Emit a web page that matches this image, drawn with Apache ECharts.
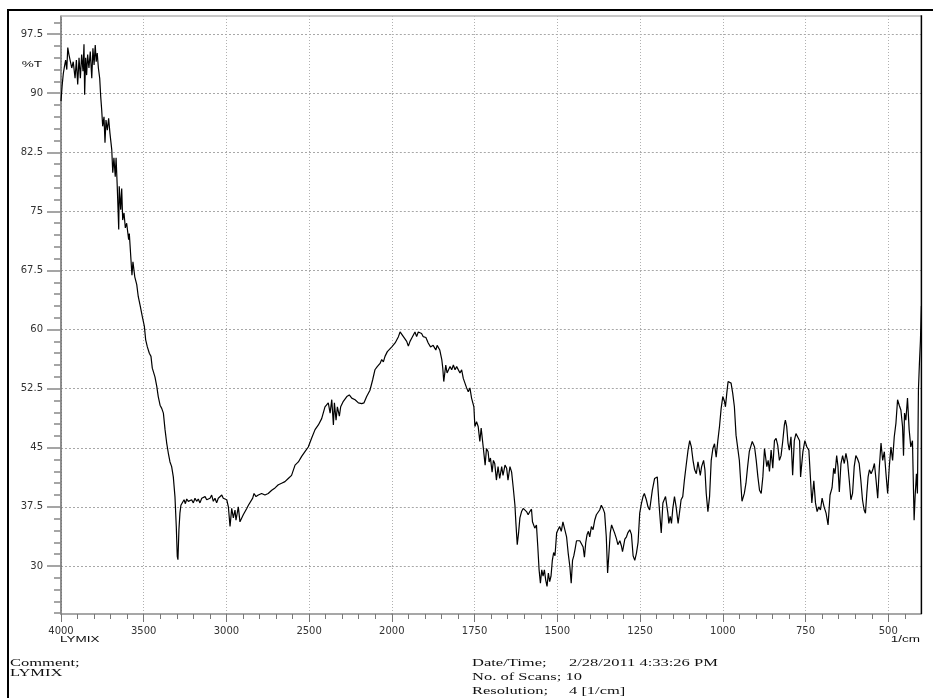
<!DOCTYPE html>
<html>
<head>
<meta charset="utf-8">
<script src="https://cdn.jsdelivr.net/npm/echarts@6/dist/echarts.min.js"></script>
<style>
html,body{margin:0;padding:0;background:#fff;}
#chart{width:933px;height:698px;}
</style>
</head>
<body>
<div id="chart"></div>
<script>
// ---- data ----
const wavenumber = [
4000,3993,3986,3979,3972,3965,3959,3952,3944,3935,3926,3915,3907,3899,3891,3883,3875,3867,3861,3857,3851,3845,3839,
3831,3823,3814,3807,3800,3793,3787,3781,3774,3766,3760,3754,3748,3740,3734,3728,3720,3712,3704,3693,
3687,3680,3672,3667,3660,3651,3648,3639,3633,3627,3619,3611,3603,3591,3587,3579,3571,3565,3554,3542,
3533,3522,3508,3496,3488,3478,3466,3456,3448,3438,3432,3421,3412,3401,3391,3381,3371,3361,3351,3341,
3331,3321,3311,3303,3297,3293,3287,3281,3275,3267,3256,3248,3240,3230,3220,3210,3200,3190,3180,3170,
3160,3149,3129,3119,3099,3089,3079,3069,3059,3049,3028,3019,3008,2998,2988,2978,2968,2958,2948,2942,
2928,2918,2907,2898,2877,2867,2857,2841,2833,2821,2807,2787,2767,2747,2726,2706,2686,2666,2646,2626,
2606,2585,2565,2545,2525,2505,2485,2464,2444,2424,2404,2384,2373,2363,2353,2347,2337,2329,2317,2309,
2293,2272,2257,2242,2222,2202,2182,2168,2152,2132,2116,2102,2088,2071,2061,2051,2041,2027,2015,2000,
1990,1980,1975,1970,1965,1960,1955,1950,1945,1940,1935,1930,1925,1920,1915,1910,1905,1897,1890,1883,
1875,1867,1863,1855,1849,1846,1843,1837,1833,1824,1819,1814,1809,1804,1794,1789,1784,1779,1774,1769,
1764,1759,1752,1749,1744,1739,1734,1730,1724,1718,1714,1709,1706,1702,1697,1693,1689,1684,1679,1674,
1668,1664,1658,1653,1649,1643,1638,1633,1628,1625,1621,1617,1613,1608,1603,1598,1593,1588,1583,1578,
1575,1571,1568,1563,1559,1555,1551,1547,1543,1539,1535,1531,1527,1523,1519,1515,1511,1507,1502,1498,
1493,1488,1483,1477,1472,1467,1462,1458,1454,1450,1446,1442,1437,1432,1427,1422,1418,1414,1410,1406,
1402,1397,1392,1387,1382,1377,1372,1367,1362,1357,1352,1348,1344,1340,1336,1332,1327,1321,1317,1311,
1306,1303,1299,1296,1291,1287,1281,1276,1271,1266,1261,1256,1251,1246,1241,1237,1231,1226,1221,1213,
1206,1198,1193,1186,1181,1173,1166,1163,1159,1155,1151,1146,1141,1135,1131,1126,1121,1116,1110,1105,
1100,1095,1090,1085,1080,1075,1072,1068,1064,1058,1054,1050,1045,1040,1035,1030,1025,1020,1015,1010,
1005,1000,995,992,988,984,980,975,970,965,960,955,950,945,942,935,930,925,920,911,
904,899,894,889,884,879,874,871,867,863,859,854,849,844,839,834,829,824,819,814,
811,807,803,799,794,789,784,779,774,768,765,758,752,746,740,735,731,725,720,715,
710,705,700,694,688,682,676,670,665,661,656,652,648,643,638,633,628,623,618,613,
608,603,598,593,588,583,578,573,569,565,561,557,552,547,542,537,532,527,522,517,
512,507,502,497,492,487,482,477,472,467,462,457,454,451,447,442,437,432,427,422,
419,415,412,409,406,403,400
];
const transmittance = [
89.0,91.0,92.5,93.4,94.2,93.0,95.8,94.9,94.7,93.2,94.0,91.9,94.2,91.1,94.5,91.9,94.9,92.8,96.2,89.8,94.5,92.3,94.9,
93.2,95.3,91.9,95.7,93.6,96.1,94.0,95.1,93.2,91.9,89.6,87.9,85.8,87.0,83.7,86.6,85.3,86.8,84.9,82.8,
79.9,81.8,79.4,81.8,78.2,72.7,78.2,75.2,77.9,73.9,74.8,72.9,73.5,71.4,72.2,72.0,66.9,68.6,66.7,65.7,
64.2,63.1,61.6,60.4,58.7,57.8,57.0,56.6,55.1,55.3,54.0,52.8,51.5,50.4,50.0,49.4,47.3,45.6,44.3,43.2,
42.6,41.3,38.8,35.0,31.2,30.8,34.6,36.7,37.7,37.9,38.4,37.9,38.5,38.2,38.0,38.4,38.0,38.6,38.2,38.5,
38.0,38.6,38.8,38.4,38.6,39.0,38.2,38.6,38.0,38.6,39.0,38.6,38.8,38.4,37.5,35.0,37.3,36.1,37.1,35.8,
37.5,35.6,35.8,36.5,37.3,37.7,37.5,38.6,39.2,38.8,39.0,39.2,39.0,39.2,39.6,39.9,40.3,40.5,40.7,41.1,
41.5,42.8,43.2,43.9,44.5,45.1,46.2,47.3,47.9,48.7,50.2,50.7,49.4,51.1,47.9,50.7,48.5,50.2,49.0,50.2,
50.9,51.5,51.7,51.3,51.1,50.7,50.6,50.7,51.5,52.3,53.6,54.9,55.3,55.7,56.2,55.9,56.6,57.2,57.0,57.8,
58.3,59.1,59.7,59.5,59.1,59.3,58.5,57.9,58.5,58.9,59.1,59.7,59.1,59.7,59.9,59.5,59.1,59.0,58.3,57.8,
58.0,57.4,58.0,57.4,56.2,55.1,53.4,55.5,54.5,55.3,54.9,55.5,54.9,55.3,54.5,54.9,53.8,53.6,52.6,52.1,
52.6,51.3,50.2,47.7,48.3,47.7,45.8,47.5,47.3,42.8,44.9,44.5,43.2,43.7,41.9,43.4,43.0,40.9,42.6,41.1,
42.6,41.5,42.8,42.4,40.9,42.6,41.9,39.9,37.7,35.4,32.7,34.2,36.1,36.9,37.3,37.1,36.9,36.5,36.9,37.2,
35.6,35.4,34.8,35.2,32.5,29.5,27.8,29.5,28.7,29.5,28.2,27.4,29.1,28.0,28.7,30.7,31.7,31.3,34.2,34.4,
35.0,34.4,35.6,35.8,33.7,31.6,29.9,27.8,30.7,31.3,32.2,33.2,33.4,33.2,33.4,32.4,31.1,33.0,34.0,34.4,
33.7,35.0,34.6,35.8,36.5,36.7,37.1,37.7,37.3,36.7,33.7,29.1,31.6,34.2,35.2,35.0,34.2,33.4,32.7,33.2,
32.5,31.8,32.7,33.4,33.7,34.2,34.6,34.0,31.3,30.7,31.6,33.0,36.7,37.9,38.8,39.2,38.4,37.5,37.1,39.6,
41.1,41.3,38.0,34.2,38.0,38.8,36.7,35.4,36.3,35.4,37.3,38.8,37.5,35.4,36.7,38.4,38.8,40.9,43.0,44.7,
45.9,45.1,43.4,42.2,41.7,43.2,43.4,41.5,42.6,43.4,42.2,39.2,36.9,38.8,43.4,44.9,45.5,43.8,45.9,47.7,
50.0,51.5,50.9,50.2,51.9,53.4,53.6,53.2,51.9,50.2,46.6,46.4,43.4,40.1,38.2,39.2,40.5,42.6,44.5,45.8,
45.1,43.4,41.3,39.6,39.2,41.3,44.9,45.1,42.6,43.4,42.0,44.7,42.4,45.9,46.2,45.3,43.4,44.0,45.8,47.9,
48.5,47.7,45.6,44.7,46.4,41.5,45.9,46.8,47.0,45.9,41.3,44.5,45.9,45.1,44.7,41.0,38.0,40.8,38.0,36.9,
37.5,37.1,38.6,37.5,36.7,35.2,39.0,39.9,42.4,41.7,44.0,42.6,39.4,43.0,44.0,43.0,44.3,43.2,40.9,38.4,
39.2,42.6,44.0,43.6,43.0,40.9,38.4,37.1,36.7,39.2,41.3,42.2,41.7,42.2,43.0,40.9,38.6,42.6,45.6,43.4,
44.5,41.7,39.2,42.6,45.1,43.4,46.4,48.1,51.1,50.4,49.8,47.7,44.0,49.4,48.5,51.3,47.3,45.1,45.9,35.8,
38.8,41.7,39.2,52.3,55.7,58.5,63.0
];
// tick values
const xMajorLow = [1750, 1500, 1250, 1000, 750, 500];
const xMinorLow = [450,550,600,650,700,800,850,900,950,1050,1100,1150,1200,1300,1350,1400,1450,1550,1600,1650,1700,1800,1850,1900,1950];
const yMajor = [30, 37.5, 45, 52.5, 60, 67.5, 75, 82.5, 90, 97.5];
const yMinor = [];
for (let v = 24; v <= 99.5; v += 1.5) yMinor.push(Math.round(v * 10) / 10);

// split the spectrum into the two scale regions (4000-2000 and 2000-400)
const highPts = [], lowPts = [];
wavenumber.forEach((w, i) => {
  if (w >= 2000) highPts.push([w, transmittance[i]]);
  if (w <= 2000) lowPts.push([w, transmittance[i]]);
});

const chart = echarts.init(document.getElementById('chart'), null, {renderer: 'canvas'});
const plain = v => String(v);
const labelStyle = {color: '#333', fontFamily: 'DejaVu Sans', fontSize: 10, formatter: plain};
const gridDash = {color: '#a8a8a8', type: [2, 2], width: 1};
const YMIN = 23.9, YMAX = 99.8;
const serif = '11px "Liberation Serif"';
const smallSans = '9px "Liberation Sans"';
const SX = 1.5;

function txt(text, x, y, font, align) {
  return {type: 'text', x: x, y: y, scaleX: SX, z: 100,
    style: {text: text, font: font, fill: '#111', align: align || 'left', verticalAlign: 'middle'}};
}

chart.setOption({
  animation: false,
  backgroundColor: '#fff',
  grid: [
    {left: 61, top: 16, width: 330.8, height: 598},
    {left: 391.8, top: 16, width: 529.6, height: 598}
  ],
  xAxis: [
    {gridIndex: 0, type: 'value', min: 2000, max: 4000, inverse: true, interval: 500, position: 'bottom',
      axisLine: {show: true, lineStyle: {color: '#8a8a8a', width: 1.5}},
      axisTick: {show: true, length: 8, lineStyle: {color: '#777', width: 1}},
      axisLabel: Object.assign({margin: 12}, labelStyle),
      splitLine: {show: true, lineStyle: {color: '#b0b0b0', type: [1, 2], width: 1}}},
    {gridIndex: 0, type: 'value', min: 2000, max: 4000, inverse: true, interval: 100, position: 'bottom',
      axisLine: {show: false}, axisTick: {show: true, length: 5, lineStyle: {color: '#777', width: 1}},
      axisLabel: {show: false}, splitLine: {show: false}},
    {gridIndex: 1, type: 'value', min: 400, max: 2000, inverse: true, position: 'bottom',
      axisLine: {show: true, lineStyle: {color: '#8a8a8a', width: 1.5}},
      axisTick: {show: true, length: 8, customValues: xMajorLow, lineStyle: {color: '#777', width: 1}},
      axisLabel: Object.assign({margin: 12, customValues: xMajorLow}, labelStyle),
      splitLine: {show: true, lineStyle: {color: '#b0b0b0', type: [1, 2], width: 1}}},
    {gridIndex: 1, type: 'value', min: 400, max: 2000, inverse: true, position: 'bottom',
      axisLine: {show: false}, axisTick: {show: true, length: 5, customValues: xMinorLow, lineStyle: {color: '#777', width: 1}},
      axisLabel: {show: false}, splitLine: {show: false}}
  ],
  yAxis: [
    {gridIndex: 0, type: 'value', min: YMIN, max: YMAX, position: 'left',
      axisLine: {show: true, lineStyle: {color: '#6a6a6a', width: 1.5}},
      axisTick: {show: true, length: 14, customValues: yMajor, lineStyle: {color: '#888', width: 1.5}},
      axisLabel: Object.assign({margin: 18, customValues: yMajor}, labelStyle),
      splitLine: {show: true, lineStyle: gridDash}},
    {gridIndex: 0, type: 'value', min: YMIN, max: YMAX, position: 'left',
      axisLine: {show: false},
      axisTick: {show: true, length: 7, customValues: yMinor, lineStyle: {color: '#888', width: 1.5}},
      axisLabel: {show: false}, splitLine: {show: false}},
    {gridIndex: 1, type: 'value', min: YMIN, max: YMAX, position: 'left',
      axisLine: {show: false},
      axisTick: {show: false, customValues: yMajor},
      axisLabel: {show: false},
      splitLine: {show: true, lineStyle: gridDash}}
  ],
  series: [
    {type: 'line', xAxisIndex: 0, yAxisIndex: 0, data: highPts, showSymbol: false, symbol: 'none',
      lineStyle: {color: '#000', width: 1.2}, z: 10},
    {type: 'line', xAxisIndex: 2, yAxisIndex: 2, data: lowPts, showSymbol: false, symbol: 'none',
      lineStyle: {color: '#000', width: 1.2}, z: 10}
  ],
  graphic: [
    {type: 'line', z: 50, shape: {x1: 7, y1: 10, x2: 933, y2: 10}, style: {stroke: '#000', lineWidth: 2}},
    {type: 'line', z: 50, shape: {x1: 8, y1: 9, x2: 8, y2: 698}, style: {stroke: '#000', lineWidth: 2}},
    {type: 'line', z: 50, shape: {x1: 61, y1: 16, x2: 921.4, y2: 16}, style: {stroke: '#b5b5b5', lineWidth: 1.5}},
    {type: 'line', z: 50, shape: {x1: 921.4, y1: 15.3, x2: 921.4, y2: 614}, style: {stroke: '#000', lineWidth: 1.5}},
    txt('%T', 42, 65, smallSans, 'right'),
    txt('LYMIX', 60, 640, smallSans, 'left'),
    txt('1/cm', 920, 640, smallSans, 'right'),
    txt('Comment;', 10, 663.5, serif, 'left'),
    txt('LYMIX', 10, 673, serif, 'left'),
    txt('Date/Time;', 472, 663, serif, 'left'),
    txt('2/28/2011 4:33:26 PM', 569, 663, serif, 'left'),
    txt('No. of Scans; 10', 472, 677, serif, 'left'),
    txt('Resolution;', 472, 691, serif, 'left'),
    txt('4 [1/cm]', 569, 691, serif, 'left')
  ]
});
</script>
</body>
</html>
